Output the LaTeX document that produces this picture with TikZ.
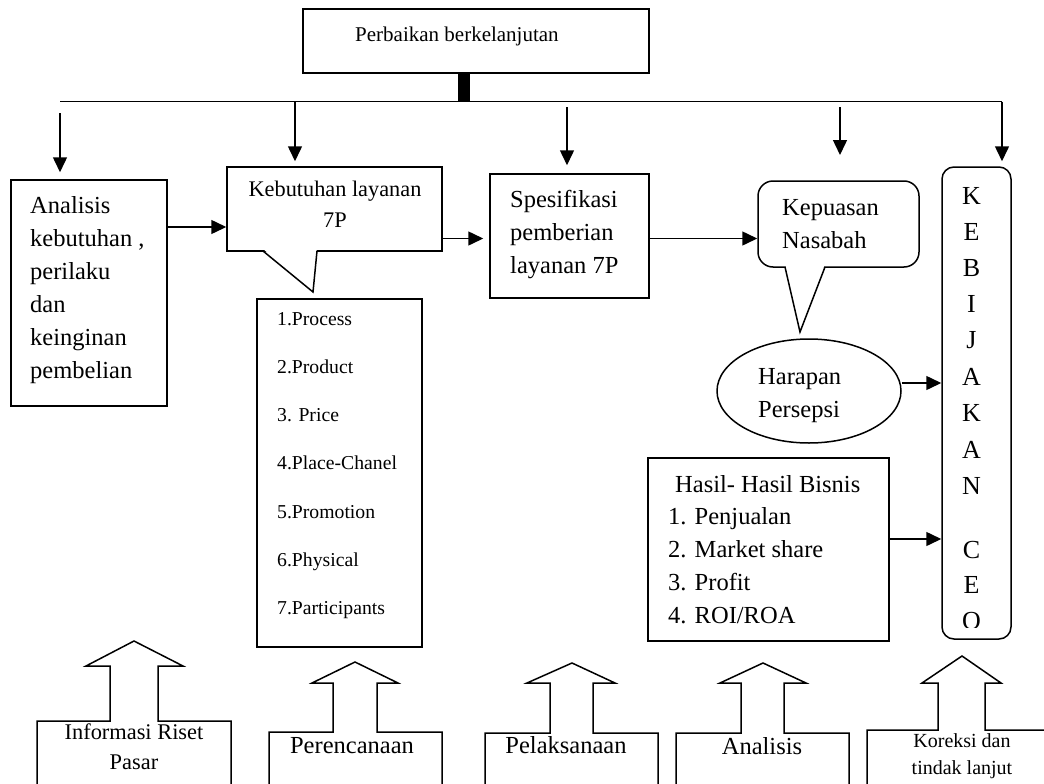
\documentclass[tikz,border=0pt]{standalone}
\usepackage{fontspec}
\setmainfont{Liberation Serif}
\usetikzlibrary{arrows.meta,shapes.geometric,calc}

\begin{document}
\begin{tikzpicture}[x=1pt,y=-1pt,
  ln/.style={line width=1.5pt},
  arr/.style={ln,-{Triangle[length=15pt,width=14pt]}},
  box/.style={draw,ln,rectangle,inner sep=0pt},
  txt/.style={inner sep=0pt,anchor=base west},
  ctr/.style={inner sep=0pt,anchor=base},
  fbig/.style={font=\fontsize{24.5}{29}\selectfont},
  fmid/.style={font=\fontsize{22.3}{27}\selectfont},
  ftop/.style={font=\fontsize{21}{25}\selectfont},
  flist/.style={font=\fontsize{19.7}{24}\selectfont},
  finfo/.style={font=\fontsize{22.4}{27}\selectfont},
  fsmall/.style={font=\fontsize{20}{24}\selectfont},
  fletter/.style={font=\fontsize{26}{30}\selectfont},
]
\useasboundingbox (0,0) rectangle (1044,784);
\fill[white] (0,0) rectangle (1044,784);
\clip (0,0) rectangle (1044,784);

% ---- top: continuous improvement box and distribution bar ----
\node[box,minimum width=346pt,minimum height=64pt] (top) at (476,41) {};
\node[txt,ftop] (toptxt) at (355,42) {Perbaikan berkelanjutan};
\fill (458,73) rectangle (470,102);
\coordinate (busL) at (60,101.5);
\coordinate (busR) at (1002,101.5);
\draw[ln] (busL) -- (busR);

% ---- main boxes ----
\node[box,minimum width=156pt,minimum height=226pt] (analisis) at (89,293) {};
\node[box,minimum width=215pt,minimum height=84pt] (kebut) at (334.5,209) {};
\node[box,minimum width=165pt,minimum height=348pt] (list) at (339.5,473) {};
\node[box,minimum width=159pt,minimum height=124pt] (spek) at (569.5,236) {};
\node[box,rounded corners=15pt,minimum width=161pt,minimum height=86pt] (kepuasan) at (838.5,224) {};
\node[draw,ln,ellipse,inner sep=0pt,minimum width=184pt,minimum height=104pt] (harapan) at (809,391) {};
\node[box,minimum width=241pt,minimum height=183pt] (hasil) at (768.5,549.5) {};
\node[box,rounded corners=12pt,minimum width=69pt,minimum height=472pt] (ceo) at (976.5,403) {};

% callout tails
\fill[white] (263.8,249.6) -- (316.8,249.6) -- (313,292) -- cycle;
\draw[ln] (263,251) -- (313,292) -- (317,251);
\fill[white] (785.6,265.6) -- (824.4,265.6) -- (800,332) -- cycle;
\draw[ln] (785,267) -- (800,332) -- (825,267);

% ---- texts ----
\foreach \t [count=\i from 0] in {Analisis,{kebutuhan ,},perilaku,dan,keinginan,pembelian}
  \node[txt,fbig] (ana\i) at (30,213+33*\i) {\t};
\node[ctr,fmid] (kebut1) at (335,196) {Kebutuhan layanan};
\node[ctr,fmid] (kebut2) at (335,227) {7P};
\foreach \t [count=\i from 0] in {1.Process,2.Product,3. Price,4.Place-Chanel,5.Promotion,6.Physical,7.Participants}
  \node[txt,flist] (item\i) at (277,325+48.3*\i) {\t};
\foreach \t [count=\i from 0] in {Spesifikasi,pemberian,layanan 7P}
  \node[txt,fbig] (spek\i) at (510,207+33*\i) {\t};
\node[txt,fbig] (kep1) at (782,215) {Kepuasan};
\node[txt,fbig] (kep2) at (782,248) {Nasabah};
\node[txt,fbig] (har1) at (758,384) {Harapan};
\node[txt,fbig] (har2) at (758,417) {Persepsi};
\node[txt,fbig] (hasil0) at (675,492) {Hasil- Hasil Bisnis};
\foreach \t [count=\i from 1] in {1. Penjualan,2. Market share,3. Profit,4. ROI/ROA}
  \node[txt,fbig] (hasil\i) at (668,492+32.8*\i) {\t};
\begin{scope}
  \clip (942,160) rectangle (1012,627);
  \foreach \l/\yy [count=\i] in {K/204,E/240,B/276,I/312,J/348,A/385,K/421,A/458,N/494,C/558,E/593,O/629.5}
    \node[ctr,fletter] (ceo\i) at (971.5,\yy) {\l};
\end{scope}

% ---- connectors ----
\coordinate (a1s) at (60,113);
\draw[arr,shorten >=7pt] (a1s) -- (analisis.north -| a1s);
\coordinate (a2s) at (295,101.5);
\draw[arr,shorten >=5pt] (a2s) -- (a2s |- kebut.north);
\coordinate (a3s) at (567,107);
\draw[arr,shorten >=8pt] (a3s) -- (a3s |- spek.north);
\coordinate (a4s) at (840,107);
\coordinate (a4e) at (840,155);
\draw[arr] (a4s) -- (a4e);
\draw[arr,shorten >=5pt] (busR) -- (busR |- ceo.north);

\coordinate (r1) at (0,227);
\draw[arr] (analisis.east |- r1) -- (kebut.west |- r1);
\coordinate (r2) at (0,238.5);
\draw[arr,shorten >=6pt] (kebut.east |- r2) -- (spek.west |- r2);
\draw[arr] (spek.east |- r2) -- (kepuasan.west |- r2);
\coordinate (r3) at (0,383);
\draw[arr] (harapan.east |- r3) -- (ceo.west |- r3);
\coordinate (r4) at (0,539);
\draw[arr] (hasil.east |- r4) -- (ceo.west |- r4);

% ---- bottom block arrows ----
\foreach \bl/\br/\bt/\sl/\sr/\hb/\hl/\hr/\tx/\ty in {
    37/231/721/110/158/666/86/183/134/641,
    269/442/732/333/377/683/312/398/355/662,
    485/658/733/550/593/683/527/615/572/663,
    676/849/733/741/784/683/720/806/763/663,
    867/1070/730/938/985/683/922/1001/962/656}
  \draw[ln] (\bl,800) -- (\bl,\bt) -- (\sl,\bt) -- (\sl,\hb) -- (\hl,\hb) -- (\tx,\ty)
    -- (\hr,\hb) -- (\sr,\hb) -- (\sr,\bt) -- (\br,\bt) -- (\br,800);
\node[ctr,finfo] (info1) at (134,739) {Informasi Riset};
\node[ctr,finfo] (info2) at (134,769) {Pasar};
\node[ctr,fbig] (plan) at (352,753) {Perencanaan};
\node[ctr,fbig] (exec) at (566,753) {Pelaksanaan};
\node[ctr,fbig] (anal) at (762,754) {Analisis};
\node[ctr,fsmall] (kor1) at (962,747) {Koreksi dan};
\node[ctr,fsmall] (kor2) at (962,774) {tindak lanjut};
\end{tikzpicture}
\end{document}
